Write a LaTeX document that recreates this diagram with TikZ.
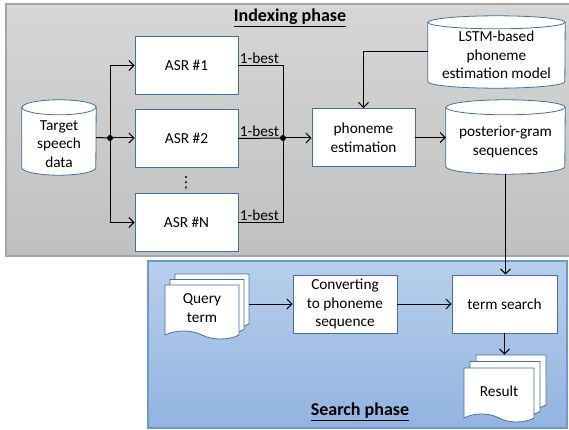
\documentclass[tikz,border=0pt]{standalone}
\usepackage{fontspec}
\setmainfont{Carlito}
\newfontfamily\symfont{DejaVu Sans}
\usetikzlibrary{shapes.symbols,arrows.meta}
\definecolor{boxblue}{RGB}{65,113,156}
\definecolor{graytop}{RGB}{214,214,214}
\definecolor{graybot}{RGB}{192,192,192}
\definecolor{grayedge}{RGB}{165,165,165}
\definecolor{bluetop}{RGB}{184,207,235}
\definecolor{bluebot}{RGB}{146,180,225}
\definecolor{blueedge}{RGB}{110,152,208}
% cylinder round a named node: #1 node, #2 x radius, #3 y radius
\newcommand\dbshape[3]{%
  \draw[draw=boxblue, fill=white, line width=0.8pt]
    ([yshift=-#3pt]#1.north west) -- ([yshift=#3pt]#1.south west)
    arc[start angle=180, end angle=360, x radius=#2pt, y radius=#3pt]
    -- ([yshift=-#3pt]#1.north east)
    arc[start angle=0, end angle=180, x radius=#2pt, y radius=#3pt] -- cycle;
  \draw[draw=boxblue, line width=0.8pt] ([yshift=-#3pt]#1.north west)
    arc[start angle=180, end angle=360, x radius=#2pt, y radius=#3pt];}
\begin{document}
\begin{tikzpicture}[x=1pt, y=-1pt, font=\fontsize{15.3}{18.5}\selectfont,
	proc/.style={draw=boxblue, fill=white, line width=0.8pt, align=center, inner sep=2pt, minimum width=103, minimum height=58},
	dbbox/.style={inner sep=0pt},
	docpage/.style={tape, tape bend top=none, tape bend bottom=out and in, tape bend height=8, draw=boxblue, fill=white, line width=0.8pt, align=center},
	dot/.style={circle, fill=black, inner sep=0pt, minimum size=6},
	arr/.style={-{Straight Barb[length=5pt, width=10pt]}},
	wire/.style={line width=1pt},
	title/.style={font=\fontsize{18}{21}\selectfont\bfseries}]
\useasboundingbox (0,0) rectangle (569,430);
% the two phases
\draw[grayedge, line width=1.2pt, top color=graytop, bottom color=graybot] (6,4) rectangle (575,256);
\draw[blueedge, line width=1.2pt, top color=bluetop, bottom color=bluebot] (148,261) rectangle (567,428);
\node[title] (idx) at (290,18) {\underline{Indexing phase}};
\node[title] (srch) at (360,412) {\underline{Search phase}};
%
% indexing phase
\node[dbbox, minimum width=74, minimum height=75] (tsd) at (59,137.5) {};
\dbshape{tsd}{37}{7.5}
\node[align=center] (tsdtext) at (59,144) {Target\\speech\\data};
\node[proc] (asr1) at (186.5,65.5) {ASR \#1};
\node[proc] (asr2) at (186.5,138.5) {ASR \#2};
\node (vd) at (186,183) {\symfont ⋮};
\node[proc] (asrn) at (186.5,222.5) {ASR \#N};
\node[proc] (phe) at (363.5,137.5) {phoneme\\estimation};
\node[dbbox, minimum width=137, minimum height=72] (lstm) at (496.5,52) {};
\dbshape{lstm}{68.5}{6.5}
\node[align=center] (lstmtext) at (496.5,55) {LSTM-based\\phoneme\\estimation model};
\node[dbbox, minimum width=119, minimum height=74] (pgs) at (505.5,137) {};
\dbshape{pgs}{59.5}{7.5}
\node[align=center] (pgstext) at (505.5,142) {posterior-gram\\sequences};
\node[dot] (j1) at (110,138) {};
\node[dot] (j2) at (283,138) {};
%
\draw[wire] (tsd.east) -- (j1);
\draw[wire, arr] (j1) |- (asr1.west);
\draw[wire, arr] (j1) -- (j1 -| asr2.west);
\draw[wire, arr] (j1) |- (asrn.west);
\draw[wire] (asr1.east) node[above right, inner sep=1pt] {1-best} -| (j2);
\draw[wire] (asr2.east) node[above right, inner sep=1pt] {1-best} -- (j2);
\draw[wire] (asrn.east) node[above right, inner sep=1pt] {1-best} -| (j2);
\draw[wire, arr] (j2) -- (j2 -| phe.west);
\draw[wire, arr] (lstm.west) -| (phe.north);
\draw[wire, arr] (phe.east) -- (phe.east -| pgs.west);
%
% search phase
\node[docpage, minimum width=74, minimum height=54] (qt3) at (212,297) {};
\node[docpage, minimum width=74, minimum height=54] (qt2) at (207,302.5) {};
\node[docpage, minimum width=74, minimum height=54] (qt) at (202,308) {Query\\term};
\node[proc, minimum width=104] (cts) at (345,304) {Converting\\to phoneme\\sequence};
\node[proc, minimum width=105] (ts) at (504.5,304) {term search};
\node[docpage, minimum width=70, minimum height=54] (res3) at (511,378) {};
\node[docpage, minimum width=70, minimum height=54] (res2) at (505,384.5) {};
\node[docpage, minimum width=70, minimum height=54] (res) at (499,391) {Result};
%
\draw[wire, arr] (pgs.south) -- (pgs.south |- ts.north);
\draw[wire, arr] (qt3.east |- cts.west) -- (cts.west);
\draw[wire, arr] (cts.east) -- (ts.west);
\draw[wire, arr] (ts.south) -- (ts.south |- res3.north);
\end{tikzpicture}
\end{document}
